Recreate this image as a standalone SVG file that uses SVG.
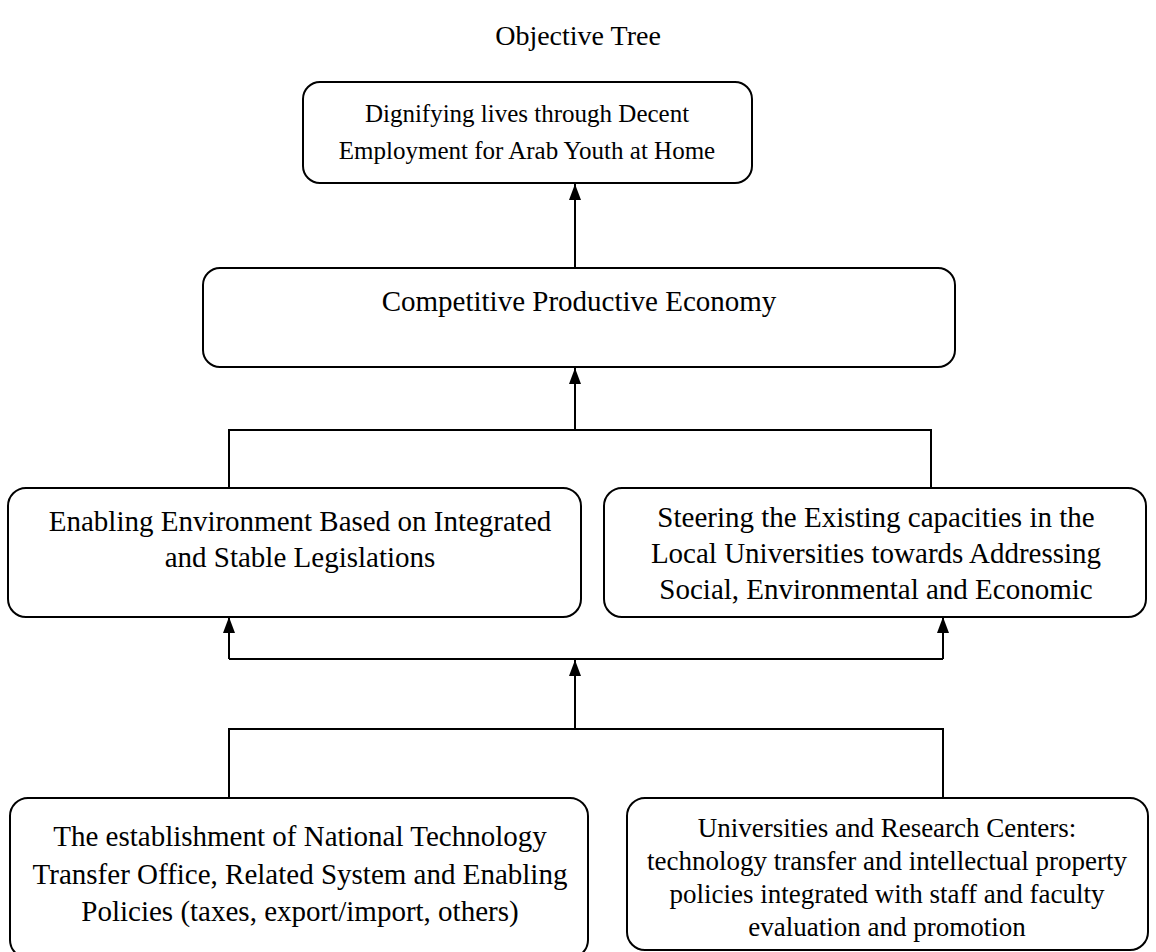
<svg xmlns="http://www.w3.org/2000/svg" width="1156" height="952" viewBox="0 0 1156 952">
<style>
.box{fill:#fff;stroke:#000;stroke-width:2}
.t{font-family:"Liberation Serif","Times New Roman",serif;font-size:29px;fill:#000;text-anchor:middle}
.m{font-size:25px}
.s{font-size:27px}
.c{fill:none;stroke:#000;stroke-width:2}
</style>
<defs>
<marker id="ah" markerWidth="16" markerHeight="12" refX="16" refY="6" orient="auto" markerUnits="userSpaceOnUse" viewBox="0 0 16 12">
<path d="M0,0 L16,6 L0,12 Z" fill="#000"/>
</marker>
</defs>
<text class="t" x="578" y="45" style="font-size:28px">Objective Tree</text>
<g id="connectors">
<line class="c" x1="575" y1="268" x2="575" y2="184" marker-end="url(#ah)"/>
<line class="c" x1="575" y1="430" x2="575" y2="368" marker-end="url(#ah)"/>
<polyline class="c" points="229,488 229,430 931,430 931,488"/>
<polyline class="c" points="229,659 943,659"/>
<line class="c" x1="229" y1="659" x2="229" y2="617" marker-end="url(#ah)"/>
<line class="c" x1="943" y1="659" x2="943" y2="617" marker-end="url(#ah)"/>
<line class="c" x1="575" y1="729" x2="575" y2="660" marker-end="url(#ah)"/>
<polyline class="c" points="229,798 229,729 943,729 943,798"/>
</g>
<g id="goal">
<rect class="box" x="303" y="82" width="449" height="101" rx="17"/>
<text class="t m" x="527" y="122">Dignifying lives through Decent</text>
<text class="t m" x="527" y="159">Employment for Arab Youth at Home</text>
</g>
<g id="economy">
<rect class="box" x="203" y="268" width="752" height="99" rx="17"/>
<text class="t" x="579" y="311">Competitive Productive Economy</text>
</g>
<g id="enabling">
<rect class="box" x="8" y="488" width="573" height="129" rx="18"/>
<text class="t" x="300" y="531">Enabling Environment Based on Integrated</text>
<text class="t" x="300" y="567">and Stable Legislations</text>
</g>
<g id="steering">
<rect class="box" x="604" y="488" width="542" height="129" rx="18"/>
<text class="t" x="876" y="527">Steering the Existing capacities in the</text>
<text class="t" x="876" y="563">Local Universities towards Addressing</text>
<text class="t" x="876" y="599">Social, Environmental and Economic</text>
</g>
<g id="ntto">
<rect class="box" x="10" y="798" width="578" height="160" rx="18"/>
<text class="t" x="300" y="846">The establishment of National Technology</text>
<text class="t" x="300" y="884">Transfer Office, Related System and Enabling</text>
<text class="t" x="300" y="921">Policies (taxes, export/import, others)</text>
</g>
<g id="universities">
<rect class="box" x="627" y="798" width="521" height="152" rx="18"/>
<text class="t s" x="887" y="837">Universities and Research Centers:</text>
<text class="t s" x="887" y="870">technology transfer and intellectual property</text>
<text class="t s" x="887" y="903">policies integrated with staff and faculty</text>
<text class="t s" x="887" y="936">evaluation and promotion</text>
</g>
</svg>
